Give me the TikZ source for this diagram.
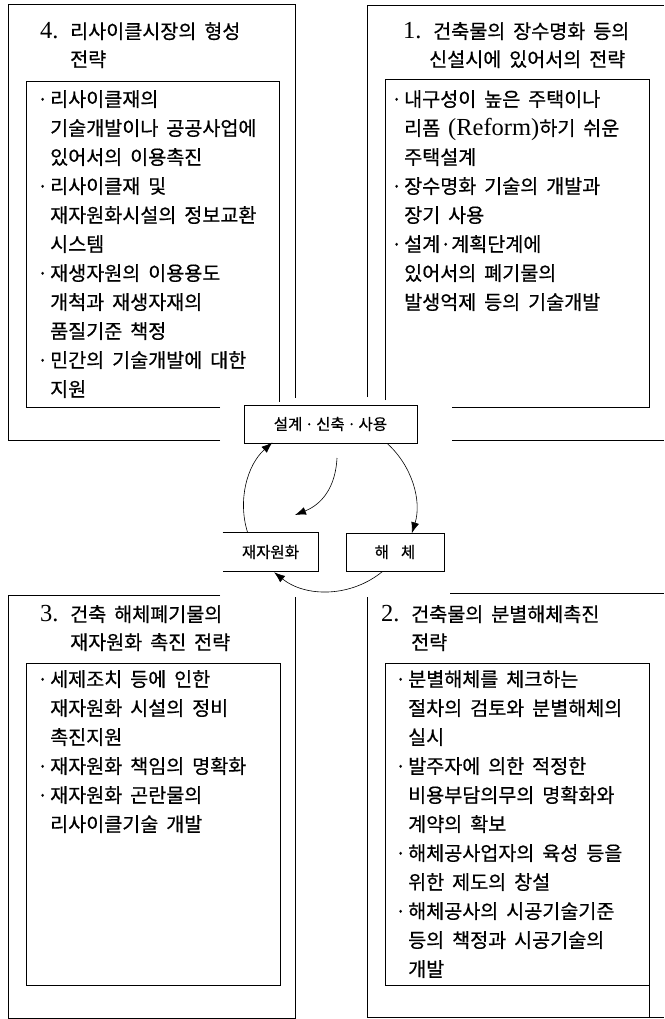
\documentclass[tikz,border=0pt]{standalone}
\usepackage{fontspec}
\setmainfont{Liberation Serif}[Scale=1.25]
\newfontfamily\kr{Noto Sans CJK KR}[WordSpace=1.8,FakeBold=0.6]
\usetikzlibrary{arrows.meta}
\newcommand\bl{\makebox[13pt][l]{·}}
\newcommand\ci{\hspace*{13pt}}
\newcommand\tn[1]{\makebox[30pt][l]{\rmfamily #1}}
\begin{document}
\begin{tikzpicture}[x=1pt,y=-1pt,
  frameo/.style={line width=0.7pt},
  framei/.style={line width=1.0pt},
  body/.style={font=\kr\fontsize{19.6}{29}\selectfont, align=left, anchor=north west, inner sep=0pt},
  ttl/.style={font=\kr\fontsize{19.6}{28}\selectfont, align=left, anchor=north west, inner sep=0pt},
  small/.style={font=\kr\fontsize{15.5}{17}\selectfont, inner sep=0pt, line width=0.7pt},
  arr/.style={line width=0.6pt, -{Latex[length=11pt,width=8pt]}},
]
\useasboundingbox (0,0) rectangle (664,1019);

% ---------- frames ----------
% top-left (4)
\draw[frameo] (220,440) -- (8,440) -- (8,4) -- (295,4) -- (295,398);
\draw[framei] (220,407) -- (26,407) -- (26,82) -- (279,82) -- (279,402);
% top-right (1)
\draw[frameo] (367,397) -- (367,5) -- (664,5);
\draw[frameo] (452,440) -- (664,440);
\draw[framei] (385,400) -- (385,80) -- (649,80) -- (649,407) -- (452,407);
% bottom-left (3)
\draw[frameo] (220,595) -- (8,595) -- (8,1018) -- (295,1018) -- (295,597);
\draw[framei] (26,663) rectangle (280,985);
% bottom-right (2)
\draw[frameo] (450,593) -- (664,593);
\draw[frameo] (367,597) -- (367,1017) -- (664,1017);
\draw[framei] (649,1017) -- (649,663) -- (385,663) -- (385,985) -- (649,985);

% ---------- titles ----------
\node[ttl] (t4) at (40,22) {\tn{4.}리사이클시장의 형성\\\hspace*{30pt}전략};
\node[ttl] (t1) at (403,22) {\tn{1.}건축물의 장수명화 등의\\\hspace*{26pt}신설시에 있어서의 전략};
\node[ttl] (t3) at (40,605) {\tn{3.}건축 해체폐기물의\\\hspace*{30pt}재자원화 촉진 전략};
\node[ttl] (t2) at (381,605) {\tn{2.}건축물의 분별해체촉진\\\hspace*{30pt}전략};

% ---------- bodies ----------
\node[body] (b4) at (37,90) {%
\bl 리사이클재의\\
\ci 기술개발이나 공공사업에\\
\ci 있어서의 이용촉진\\
\bl 리사이클재 및\\
\ci 재자원화시설의 정보교환\\
\ci 시스템\\
\bl 재생자원의 이용용도\\
\ci 개척과 재생자재의\\
\ci 품질기준 책정\\
\bl 민간의 기술개발에 대한\\
\ci 지원};
\node[body] (b1) at (391,90) {%
\bl 내구성이 높은 주택이나\\
\ci 리폼 {\rmfamily (Reform)}하기 쉬운\\
\ci 주택설계\\
\bl 장수명화 기술의 개발과\\
\ci 장기 사용\\
\bl 설계·계획단계에\\
\ci 있어서의 폐기물의\\
\ci 발생억제 등의 기술개발};
\node[body] (b3) at (37,670) {%
\bl 세제조치 등에 인한\\
\ci 재자원화 시설의 정비\\
\ci 촉진지원\\
\bl 재자원화 책임의 명확화\\
\bl 재자원화 곤란물의\\
\ci 리사이클기술 개발};
\node[body] (b2) at (395,670) {%
\bl 분별해체를 체크하는\\
\ci 절차의 검토와 분별해체의\\
\ci 실시\\
\bl 발주자에 의한 적정한\\
\ci 비용부담의무의 명확화와\\
\ci 계약의 확보\\
\bl 해체공사업자의 육성 등을\\
\ci 위한 제도의 창설\\
\bl 해체공사의 시공기술기준\\
\ci 등의 책정과 시공기술의\\
\ci 개발};

% ---------- cycle ----------
\node[small, draw, minimum width=173pt, minimum height=38pt] (sk) at (330.5,424) {설계\,·\,신축\,·\,사용};
\node[small, minimum width=95pt, minimum height=38pt] (jae) at (270.5,552) {재자원화};
\draw[line width=0.7pt] (jae.north west) -- (jae.north east) -- (jae.south east) -- (jae.south west);
\node[small, draw, minimum width=98pt, minimum height=38pt] (hae) at (395,552) {해\hspace{12pt}체};

\draw[arr] ([xshift=25pt]jae.north west) arc[start angle=162.4, end angle=228.3, radius=86];
\draw[arr] ([xshift=56.5pt]sk.south) arc[start angle=-48.3, end angle=17.4, radius=86];
\draw[arr] ([xshift=37pt]hae.south west) arc[start angle=50.4, end angle=128.7, radius=86];
\coordinate (a2s) at (337,458);
\coordinate (a2e) at (295,515);
\draw[arr] (a2s) .. controls (335,495) and (315,507) .. (a2e);
\end{tikzpicture}
\end{document}
